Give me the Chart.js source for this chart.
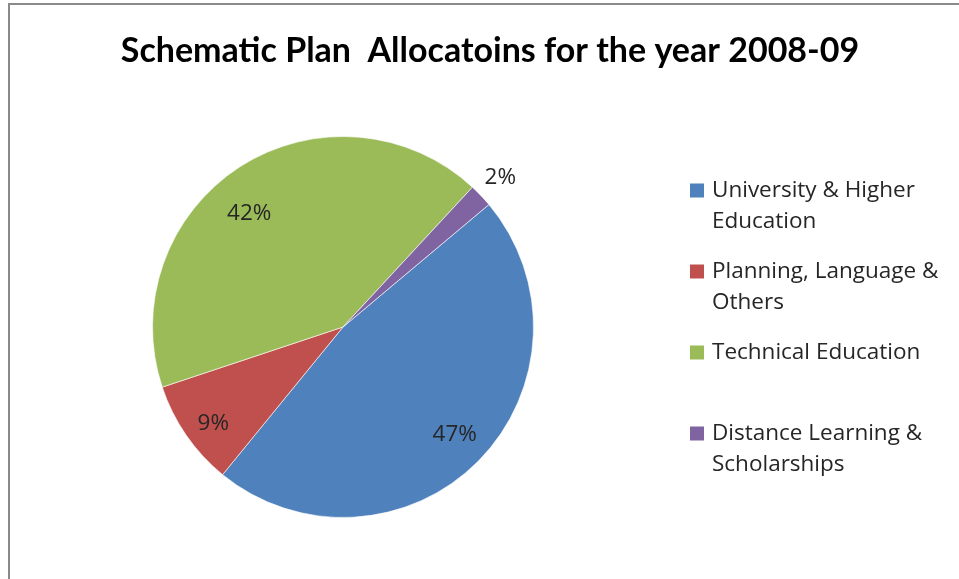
<!DOCTYPE html>
<html>
<head>
<meta charset="utf-8">
<script src="https://cdn.jsdelivr.net/npm/chart.js@4.4.1/dist/chart.umd.min.js"></script>
<style>
  html, body { margin: 0; padding: 0; background: #fff; }
  #wrap { position: relative; width: 959px; height: 579px; }
  #frame { position: absolute; left: 8px; top: 3px; right: -5px; bottom: -5px;
           border-left: 2px solid #8a8a8a; border-top: 2px solid #8a8a8a; pointer-events: none; }
  canvas { position: absolute; left: 0; top: 0; }
</style>
</head>
<body>
<div id="wrap">
  <canvas id="c" width="959" height="579"></canvas>
  <div id="frame"></div>
</div>
<script>
// ---- data ----
const titleText = "Schematic Plan  Allocatoins for the year 2008-09";
const categories = [
  ["University & Higher", "Education"],
  ["Planning, Language &", "Others"],
  ["Technical Education"],
  ["Distance Learning &", "Scholarships"]
];
const shares = [47, 9, 42, 2];
const colors = ["#4F81BD", "#C0504D", "#9BBB59", "#8064A2"];

// label placement (radius factor, angle offset in degrees) -- "best fit" style
const labelPlacement = [[0.815, -0.6], [0.848, -2], [0.774, -6.7], [1.14, 0]];

const TITLE_FONT = "Lato, 'Open Sans', sans-serif";
const FONT = "'Open Sans', Lato, sans-serif";

const extrasPlugin = {
  id: "extras",
  afterDraw(chart) {
    const ctx = chart.ctx;
    ctx.save();
    // title
    ctx.fillStyle = "#000";
    ctx.font = "bold 34px " + TITLE_FONT;
    ctx.textAlign = "center";
    ctx.textBaseline = "middle";
    ctx.fillText(titleText, 490, 51);

    // data labels
    const meta = chart.getDatasetMeta(0);
    const total = shares.reduce((a, b) => a + b, 0);
    ctx.font = "22.5px " + FONT;
    ctx.fillStyle = "#262626";
    meta.data.forEach((arc, i) => {
      const p = arc.getProps(["x", "y", "startAngle", "endAngle", "outerRadius"], true);
      const [f, da] = labelPlacement[i];
      const mid = (p.startAngle + p.endAngle) / 2 + da * Math.PI / 180;
      const pct = shares[i] / total * 100;
      const x = p.x + Math.cos(mid) * p.outerRadius * f;
      const y = p.y + Math.sin(mid) * p.outerRadius * f;
      ctx.fillText(Math.round(pct) + "%", x, y);
    });

    // legend
    ctx.textAlign = "left";
    ctx.font = "22.5px " + FONT;
    categories.forEach((lines, i) => {
      const yc = 190.5 + i * 81;
      ctx.fillStyle = colors[i];
      ctx.fillRect(690, yc - 7, 14, 14);
      ctx.fillStyle = "#262626";
      lines.forEach((ln, j) => ctx.fillText(ln, 712, yc + j * 31));
    });
    ctx.restore();
  }
};

new Chart(document.getElementById("c"), {
  type: "pie",
  data: {
    labels: categories.map(l => l.join(" ")),
    datasets: [{
      data: shares,
      backgroundColor: colors,
      borderColor: "rgba(255,255,255,0.6)",
      borderWidth: 1
    }]
  },
  options: {
    responsive: false,
    animation: false,
    rotation: 50,
    layout: { padding: { top: 136, bottom: 61, left: 152, right: 425 } },
    plugins: {
      legend: { display: false },
      title: { display: false },
      tooltip: { enabled: false }
    }
  },
  plugins: [extrasPlugin]
});
</script>
</body>
</html>
